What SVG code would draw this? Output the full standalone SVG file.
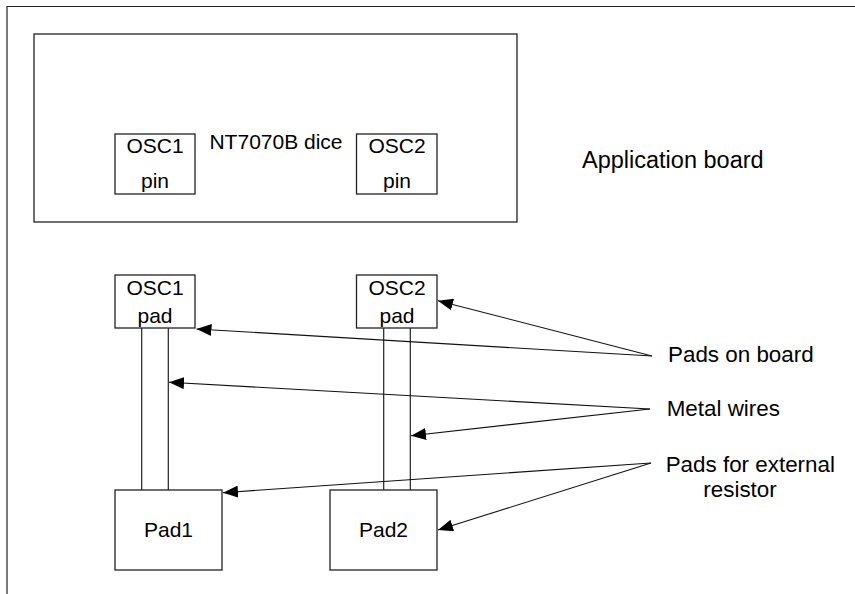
<svg xmlns="http://www.w3.org/2000/svg" width="855" height="594" viewBox="0 0 855 594">
<style>
.box{fill:#fff;stroke:#222;stroke-width:1.3}
.ln{fill:none;stroke:#222;stroke-width:1.2}
.t{font-family:"Liberation Sans",Arial,sans-serif;font-size:21px;fill:#000}
.lbl{font-family:"Liberation Sans",Arial,sans-serif;font-size:22.4px;fill:#000}
.big{font-size:23.5px}
.ar{fill:none;stroke:#111;stroke-width:1.1;marker-end:url(#ah)}
</style>
<defs>
<marker id="ah" markerUnits="userSpaceOnUse" markerWidth="16" markerHeight="12" refX="15" refY="6" orient="auto">
<path d="M0,0 L15,6 L0,12 Z" fill="#000"/>
</marker>
</defs>
<rect width="855" height="594" fill="#fff"/>
<g id="frame">
<path class="ln" d="M7,594 V6.5 H855" stroke-width="1.6"/>
</g>
<g id="dice">
<rect class="box" x="34" y="34" width="483" height="188"/>
<text class="t" x="276" y="149" text-anchor="middle">NT7070B dice</text>
</g>
<g id="osc1pin">
<rect class="box" x="115" y="134" width="80" height="60"/>
<text class="t" x="155" y="153" text-anchor="middle">OSC1</text>
<text class="t" x="155" y="188" text-anchor="middle">pin</text>
</g>
<g id="osc2pin">
<rect class="box" x="356.5" y="134" width="80.5" height="60"/>
<text class="t" x="397" y="153" text-anchor="middle">OSC2</text>
<text class="t" x="397" y="188" text-anchor="middle">pin</text>
</g>
<g id="appboard">
<text class="lbl big" x="582" y="168">Application board</text>
</g>
<g id="wires">
<line class="ln" x1="141.7" y1="328" x2="141.7" y2="490"/>
<line class="ln" x1="168.3" y1="328" x2="168.3" y2="490"/>
<line class="ln" x1="383.7" y1="328" x2="383.7" y2="490"/>
<line class="ln" x1="410.3" y1="328" x2="410.3" y2="490"/>
</g>
<g id="osc1pad">
<rect class="box" x="115" y="275" width="80" height="53"/>
<text class="t" x="155" y="295" text-anchor="middle">OSC1</text>
<text class="t" x="155" y="323" text-anchor="middle">pad</text>
</g>
<g id="osc2pad">
<rect class="box" x="356.5" y="275" width="80.5" height="53"/>
<text class="t" x="397" y="295" text-anchor="middle">OSC2</text>
<text class="t" x="397" y="323" text-anchor="middle">pad</text>
</g>
<g id="pad1">
<rect class="box" x="115" y="490" width="107" height="80"/>
<text class="t" x="168.5" y="537" text-anchor="middle">Pad1</text>
</g>
<g id="pad2">
<rect class="box" x="330" y="490" width="107" height="80"/>
<text class="t" x="383.5" y="537" text-anchor="middle">Pad2</text>
</g>
<g id="labels">
<text class="lbl" x="668" y="362">Pads on board</text>
<text class="lbl" x="666.7" y="416">Metal wires</text>
<text class="lbl" x="665.7" y="472">Pads for external</text>
<text class="lbl" x="740" y="497" text-anchor="middle">resistor</text>
</g>
<g id="connectors">
<line class="ar" x1="652" y1="356" x2="196.5" y2="329"/>
<line class="ar" x1="652" y1="356" x2="438" y2="300.7"/>
<line class="ar" x1="650" y1="409" x2="169" y2="382.3"/>
<line class="ar" x1="650" y1="409" x2="411" y2="435.7"/>
<line class="ar" x1="651" y1="463" x2="223" y2="492.7"/>
<line class="ar" x1="651" y1="463" x2="438" y2="530"/>
</g>
</svg>
